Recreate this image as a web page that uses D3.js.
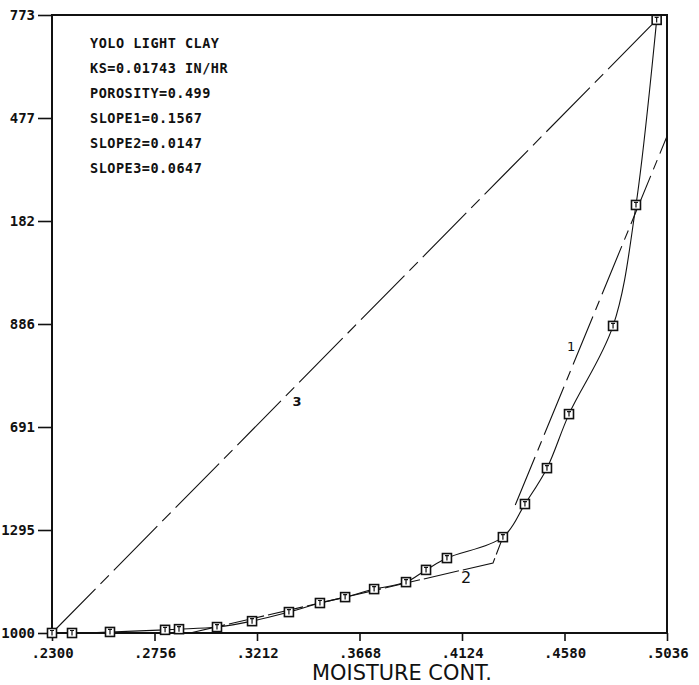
<!DOCTYPE html>
<html>
<head>
<meta charset="utf-8">
<script src="https://cdn.jsdelivr.net/npm/d3@7"></script>
<style>
  html, body { margin: 0; padding: 0; background: #fff; }
  svg { display: block; }
</style>
</head>
<body>
<script>
// ---- data ----
const xTicks = [0.2300, 0.2756, 0.3212, 0.3668, 0.4124, 0.4580, 0.5036];
const xTickLabels = [".2300", ".2756", ".3212", ".3668", ".4124", ".4580", ".5036"];
const yTicks = [0, 0.002955, 0.00591, 0.008865, 0.01182, 0.014775, 0.01773];
const yTickLabels = ["1000", "1295", "691", "886", "182", "477", "773"];

// measured points (moisture content vs. conductivity)
const moisture = [0.2300, 0.2389, 0.2558, 0.2803, 0.2865, 0.3034, 0.3190, 0.3354, 0.3492, 0.3604,
                  0.3733, 0.3875, 0.3964, 0.4057, 0.4306, 0.4404, 0.4502, 0.4600, 0.4796, 0.4898, 0.4990];
const conductivity = [0, 0, 0.00003, 0.00009, 0.00011, 0.00017, 0.00034, 0.00060, 0.00086, 0.00103,
                      0.00126, 0.00146, 0.00181, 0.00215, 0.00275, 0.00370, 0.00473, 0.00628, 0.00881, 0.01228, 0.01759];

// fitted straight segments
const line1X = [0.4361, 0.5036];
const line1Y = [0.00367, 0.01425];
const line2X = [0.2914, 0.4262, 0.4306];
const line2Y = [0, 0.00201, 0.00275];
const line3X = [0.2300, 0.4990];
const line3Y = [0, 0.01759];

const lineLabels = ["1", "2", "3"];
const lineLabelX = [0.4609, 0.4142, 0.3390];
const lineLabelY = [0.00821, 0.00158, 0.00663];

const infoText = ["YOLO LIGHT CLAY", "KS=0.01743 IN/HR", "POROSITY=0.499",
                  "SLOPE1=0.1567", "SLOPE2=0.0147", "SLOPE3=0.0647"];
const xTitle = "MOISTURE CONT.";

// ---- drawing ----
const W = 699, H = 685;
const svg = d3.select("body").append("svg").attr("width", W).attr("height", H);

const x = d3.scaleLinear().domain([xTicks[0], xTicks[xTicks.length - 1]]).range([52, 667]);
const y = d3.scaleLinear().domain([yTicks[0], yTicks[yTicks.length - 1]]).range([633, 15]);

const ink = "#111";
const mono = "'DejaVu Sans Mono', 'Liberation Mono', monospace";

// frame
svg.append("rect")
  .attr("x", x.range()[0]).attr("y", y.range()[1])
  .attr("width", x.range()[1] - x.range()[0]).attr("height", y.range()[0] - y.range()[1])
  .attr("fill", "none").attr("stroke", ink).attr("stroke-width", 2);

// axes
const yAxis = d3.axisLeft(y).tickValues(yTicks).tickFormat((d, i) => yTickLabels[i])
  .tickSize(14).tickPadding(3);
const gy = svg.append("g").attr("transform", `translate(${x.range()[0]},0)`).call(yAxis);
const xAxis = d3.axisBottom(x).tickValues(xTicks).tickFormat((d, i) => xTickLabels[i])
  .tickSize(8).tickPadding(7);
const gx = svg.append("g").attr("transform", `translate(0,${y.range()[0]})`).call(xAxis);

[gx, gy].forEach(g => {
  g.select(".domain").remove();
  g.selectAll(".tick line").attr("stroke", ink).attr("stroke-width", 1.6);
  g.selectAll(".tick text").attr("fill", ink).attr("font-family", mono).attr("font-weight", "bold");
});
gy.selectAll(".tick text").attr("font-size", 14);
gx.selectAll(".tick text").attr("font-size", 14);

const lineGen = d3.line().x(d => x(d[0])).y(d => y(d[1]));

// line 3 (dash)
svg.append("path").datum(d3.zip(line3X, line3Y)).attr("d", lineGen)
  .attr("fill", "none").attr("stroke", ink).attr("stroke-width", 1.1)
  .attr("stroke-dasharray", "62,7,12,7");
// line 1 (dash)
svg.append("path").datum(d3.zip(line1X, line1Y)).attr("d", lineGen)
  .attr("fill", "none").attr("stroke", ink).attr("stroke-width", 1.1)
  .attr("stroke-dasharray", "52,7,10,7");
// line 2
svg.append("path").datum(d3.zip(line2X, line2Y)).attr("d", lineGen)
  .attr("fill", "none").attr("stroke", ink).attr("stroke-width", 1.1)
  .attr("stroke-dasharray", "36,4");

// smooth curve through the points
const curveGen = d3.line().x(d => x(d[0])).y(d => y(d[1])).curve(d3.curveCatmullRom.alpha(0.5));
svg.append("path").datum(d3.zip(moisture, conductivity)).attr("d", curveGen)
  .attr("fill", "none").attr("stroke", ink).attr("stroke-width", 1.1);

// point markers
const pts = svg.append("g").selectAll("g").data(d3.zip(moisture, conductivity)).join("g")
  .attr("transform", d => `translate(${x(d[0])},${y(d[1])})`);
pts.append("rect").attr("x", -4.5).attr("y", -4.5).attr("width", 9).attr("height", 9)
  .attr("fill", "#fff").attr("stroke", ink).attr("stroke-width", 1.6);
pts.append("path").attr("d", "M-2,-2.5 L2,-2.5 M0,-2.5 L0,2.5")
  .attr("stroke", ink).attr("stroke-width", 1.2).attr("fill", "none");

// line labels
svg.append("g").selectAll("text").data(lineLabels).join("text")
  .attr("x", (d, i) => x(lineLabelX[i])).attr("y", (d, i) => y(lineLabelY[i]))
  .attr("text-anchor", "middle").attr("dominant-baseline", "central")
  .attr("font-family", "'DejaVu Sans', sans-serif")
  .attr("font-size", (d, i) => i === 1 ? 16 : 13)
  .attr("font-weight", (d, i) => i === 2 ? "bold" : "normal")
  .attr("fill", ink).text(d => d);

// info block
svg.append("g").selectAll("text").data(infoText).join("text")
  .attr("x", 90).attr("y", (d, i) => 48 + i * 25)
  .attr("font-family", mono).attr("font-size", 13.5).attr("font-weight", "bold")
  .attr("fill", ink).attr("textLength", d => d.length * 8.6).attr("lengthAdjust", "spacing")
  .text(d => d);

// axis title
svg.append("text").attr("x", 402).attr("y", 680).attr("text-anchor", "middle")
  .attr("font-family", "'DejaVu Sans', sans-serif").attr("font-size", 21)
  .attr("textLength", 180).attr("lengthAdjust", "spacingAndGlyphs")
  .attr("fill", ink).text(xTitle);
</script>
</body>
</html>
